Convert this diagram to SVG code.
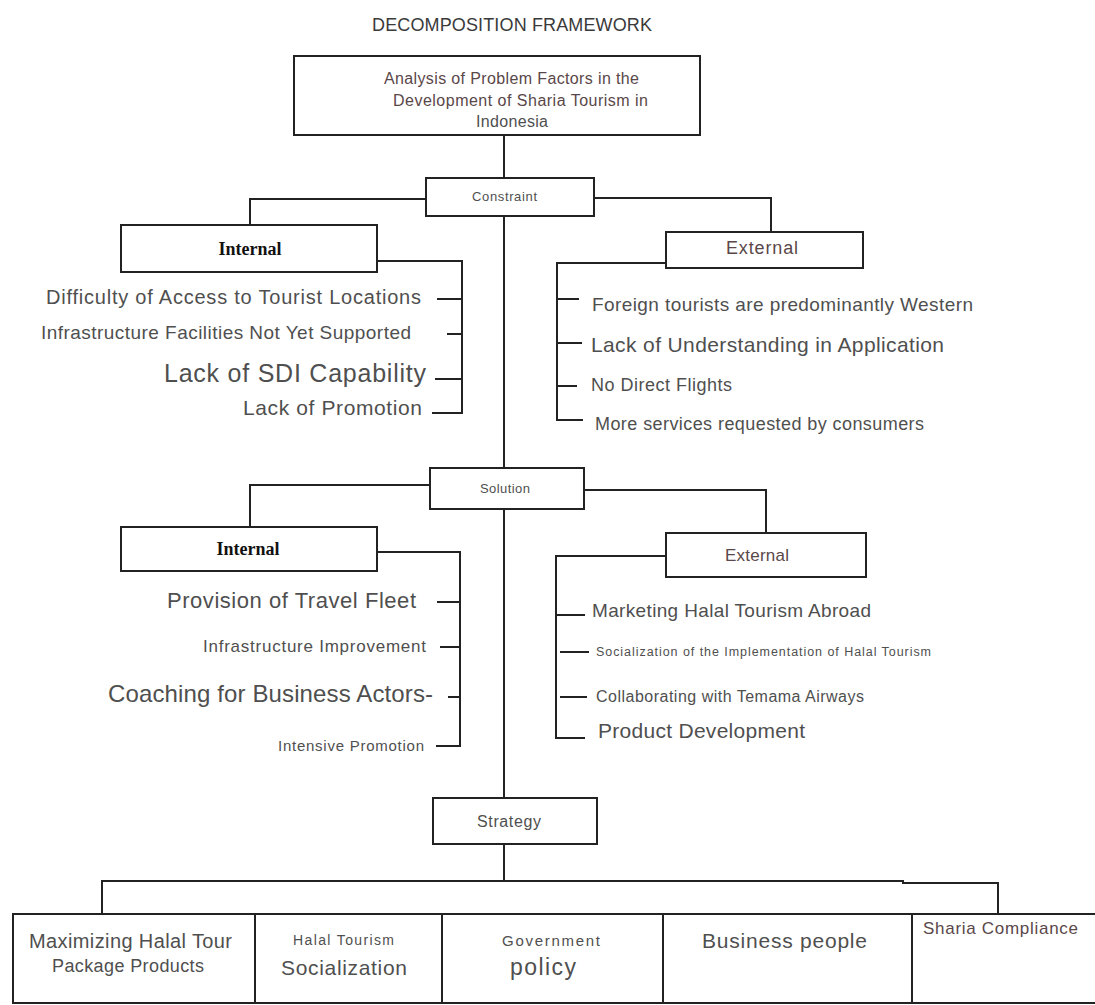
<svg xmlns="http://www.w3.org/2000/svg" width="1095" height="1005" viewBox="0 0 1095 1005">
<style>
.bg{fill:#ffffff}
.box{fill:#ffffff;stroke:#222;stroke-width:2}
.ln{fill:none;stroke:#222;stroke-width:2}
.t{font-family:"Liberation Sans",Arial,sans-serif;fill:#4f4f4f}
.r{fill:#5a4749}
.s{font-family:"Liberation Serif","Times New Roman",serif;font-weight:bold;fill:#111}
.m{text-anchor:middle}
</style>
<rect class="bg" x="0" y="0" width="1095" height="1005"/>

<g id="connectors">
<path class="ln" d="M504,135 V178 M504,216 V468 M504,509 V798 M504,844 V881"/>
<path class="ln" d="M426,199 H250 V225"/>
<path class="ln" d="M594,198 H771 V232"/>
<path class="ln" d="M377,261 H462 V413 H432 M437,299 H462 M447,334 H462 M435,379 H462"/>
<path class="ln" d="M666,263 H557 V420 H583 M557,299 H579 M557,343 H582 M557,386 H577"/>
<path class="ln" d="M430,485 H250 V527"/>
<path class="ln" d="M584,490 H766 V533"/>
<path class="ln" d="M377,552 H460 V746 H436 M437,602 H460 M440,647 H460 M448,697 H460"/>
<path class="ln" d="M666,556 H556 V738 H585 M556,615 H585 M560,652 H589 M560,697 H587"/>
<path class="ln" d="M102,914 V881 H903 V883 H998 V914"/>
</g>

<g id="title"><text class="t" x="372" y="31" font-size="18" textLength="280" lengthAdjust="spacing" style="fill:#3a3a3a">DECOMPOSITION FRAMEWORK</text></g>

<g id="analysis">
<rect class="box" x="294" y="56" width="406" height="79"/>
<text class="t r" x="384" y="84" font-size="16" textLength="255" lengthAdjust="spacing">Analysis of Problem Factors in the</text>
<text class="t r" x="393" y="106" font-size="16" textLength="255" lengthAdjust="spacing">Development of Sharia Tourism in</text>
<text class="t" x="476" y="127" font-size="16" textLength="72" lengthAdjust="spacing">Indonesia</text>
</g>

<g id="constraint">
<rect class="box" x="426" y="178" width="168" height="38"/>
<text class="t" x="472" y="201" font-size="13" textLength="65" lengthAdjust="spacing">Constraint</text>
</g>

<g id="internal-constraint">
<rect class="box" x="121" y="225" width="256" height="47"/>
<text class="s m" x="250" y="255" font-size="18">Internal</text>
</g>
<g id="ic-1"><text class="t" x="46" y="304" font-size="20" textLength="375" lengthAdjust="spacing">Difficulty of Access to Tourist Locations</text></g>
<g id="ic-2"><text class="t" x="41" y="339" font-size="19" textLength="370" lengthAdjust="spacing">Infrastructure Facilities Not Yet Supported</text></g>
<g id="ic-3"><text class="t" x="164" y="382" font-size="25" textLength="262" lengthAdjust="spacing">Lack of SDI Capability</text></g>
<g id="ic-4"><text class="t" x="243" y="415" font-size="21" textLength="179" lengthAdjust="spacing">Lack of Promotion</text></g>

<g id="external-constraint">
<rect class="box" x="666" y="232" width="197" height="36"/>
<text class="t r" x="726" y="254" font-size="18" textLength="72" lengthAdjust="spacing">External</text>
</g>
<g id="ec-1"><text class="t" x="592" y="311" font-size="19" textLength="381" lengthAdjust="spacing">Foreign tourists are predominantly Western</text></g>
<g id="ec-2"><text class="t" x="591" y="352" font-size="21" textLength="353" lengthAdjust="spacing">Lack of Understanding in Application</text></g>
<g id="ec-3"><text class="t" x="591" y="391" font-size="18" textLength="141" lengthAdjust="spacing">No Direct Flights</text></g>
<g id="ec-4"><text class="t" x="595" y="430" font-size="18" textLength="329" lengthAdjust="spacing">More services requested by consumers</text></g>

<g id="solution">
<rect class="box" x="430" y="468" width="154" height="41"/>
<text class="t" x="480" y="493" font-size="13" textLength="50" lengthAdjust="spacing">Solution</text>
</g>

<g id="internal-solution">
<rect class="box" x="121" y="527" width="256" height="44"/>
<text class="s m" x="248" y="555" font-size="18">Internal</text>
</g>
<g id="is-1"><text class="t" x="167" y="608" font-size="22" textLength="249" lengthAdjust="spacing">Provision of Travel Fleet</text></g>
<g id="is-2"><text class="t" x="203" y="652" font-size="17" textLength="223" lengthAdjust="spacing">Infrastructure Improvement</text></g>
<g id="is-3"><text class="t" x="108" y="702" font-size="24" textLength="325" lengthAdjust="spacing">Coaching for Business Actors-</text></g>
<g id="is-4"><text class="t" x="278" y="751" font-size="15" textLength="146" lengthAdjust="spacing">Intensive Promotion</text></g>

<g id="external-solution">
<rect class="box" x="666" y="533" width="200" height="44"/>
<text class="t r" x="725" y="561" font-size="17" textLength="64" lengthAdjust="spacing">External</text>
</g>
<g id="es-1"><text class="t" x="592" y="617" font-size="19" textLength="279" lengthAdjust="spacing">Marketing Halal Tourism Abroad</text></g>
<g id="es-2"><text class="t" x="596" y="656" font-size="12.5" textLength="335" lengthAdjust="spacing">Socialization of the Implementation of Halal Tourism</text></g>
<g id="es-3"><text class="t" x="596" y="702" font-size="16" textLength="268" lengthAdjust="spacing">Collaborating with Temama Airways</text></g>
<g id="es-4"><text class="t" x="598" y="738" font-size="21" textLength="207" lengthAdjust="spacing">Product Development</text></g>

<g id="strategy">
<rect class="box" x="433" y="798" width="164" height="46"/>
<text class="t" x="477" y="827" font-size="16" textLength="64" lengthAdjust="spacing">Strategy</text>
</g>

<g id="cell-1">
<path class="ln" d="M1095,914 H13 V1003 H1095"/>
<text class="t" x="29" y="948" font-size="20" textLength="203" lengthAdjust="spacing">Maximizing Halal Tour</text>
<text class="t" x="52" y="972" font-size="18" textLength="152" lengthAdjust="spacing">Package Products</text>
</g>
<g id="cell-2">
<path class="ln" d="M255,914 V1003"/>
<text class="t" x="293" y="945" font-size="14" textLength="101" lengthAdjust="spacing">Halal Tourism</text>
<text class="t" x="281" y="975" font-size="21" textLength="126" lengthAdjust="spacing">Socialization</text>
</g>
<g id="cell-3">
<path class="ln" d="M442,914 V1003"/>
<text class="t" x="502" y="946" font-size="15" textLength="98" lengthAdjust="spacing">Government</text>
<text class="t" x="510" y="975" font-size="23" textLength="66" lengthAdjust="spacing">policy</text>
</g>
<g id="cell-4">
<path class="ln" d="M663,914 V1003"/>
<text class="t" x="702" y="948" font-size="21" textLength="165" lengthAdjust="spacing">Business people</text>
</g>
<g id="cell-5">
<path class="ln" d="M912,914 V1003"/>
<text class="t r" x="923" y="934" font-size="17" textLength="155" lengthAdjust="spacing">Sharia Compliance</text>
</g>
</svg>
